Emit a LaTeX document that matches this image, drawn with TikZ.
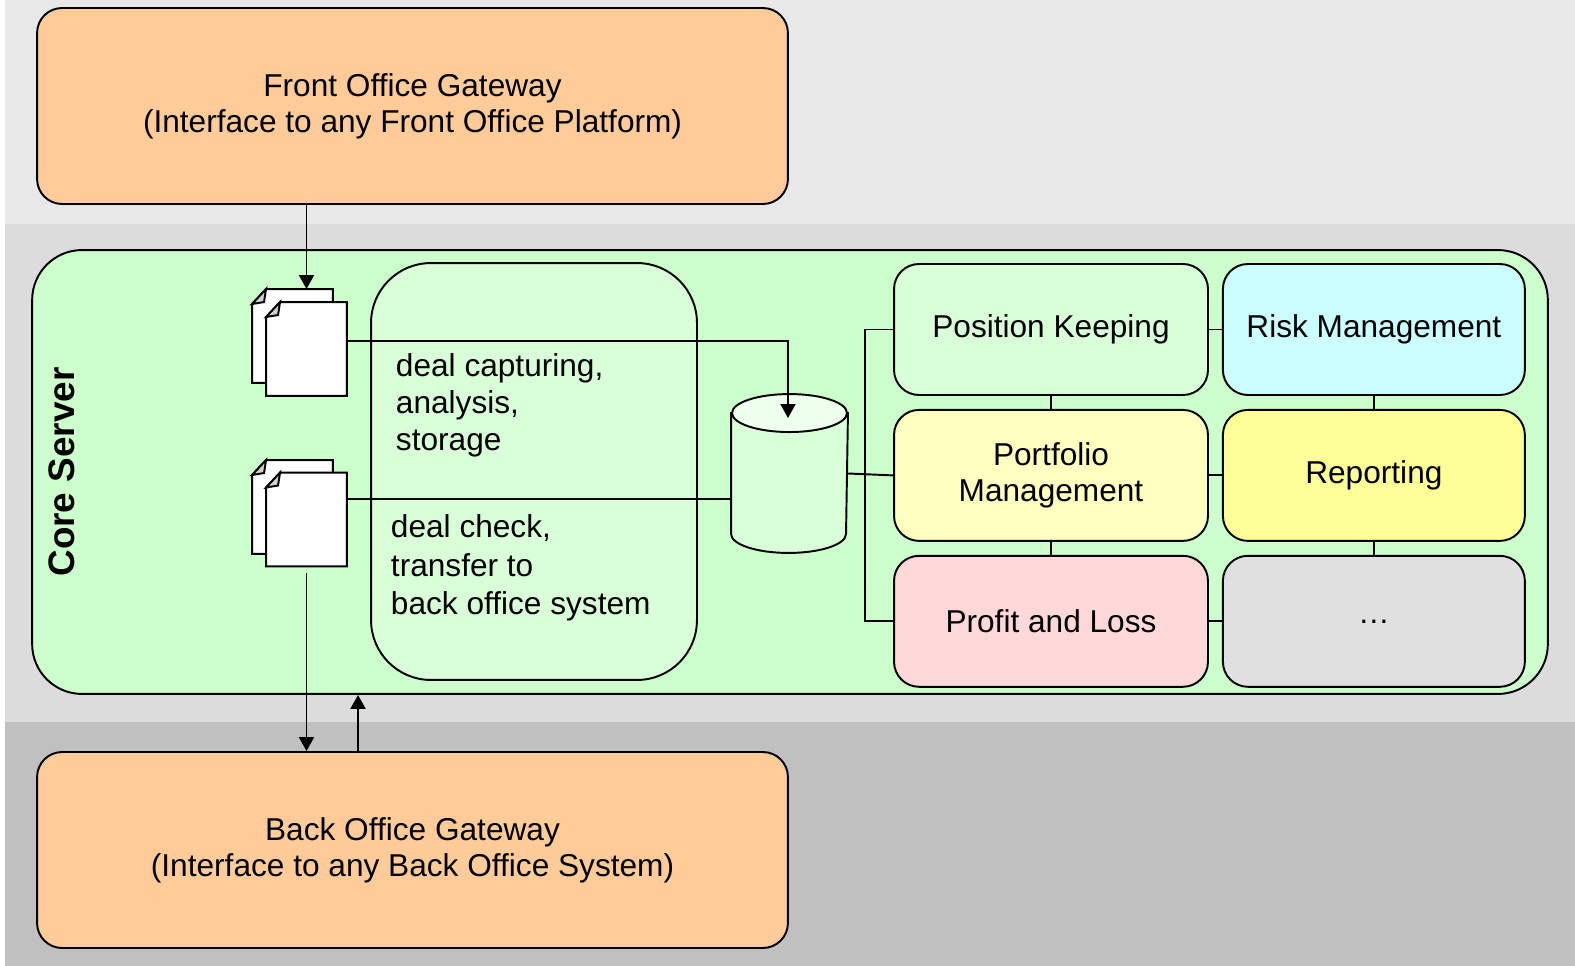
\documentclass[tikz,border=0pt]{standalone}
\usepackage{fontspec}
\setmainfont{Liberation Sans}
\usepackage{tikz}
\usetikzlibrary{arrows.meta, positioning}
\definecolor{bandA}{HTML}{E8E8E8}
\definecolor{bandB}{HTML}{DCDCDC}
\definecolor{bandC}{HTML}{C0C0C0}
\definecolor{gatecol}{HTML}{FFCC99}
\definecolor{corecol}{HTML}{CCFFCC}
\definecolor{lightcol}{HTML}{D9FFD9}
\definecolor{cyltop}{HTML}{EEFFEE}
\definecolor{rmcol}{HTML}{CCFFFF}
\definecolor{pmcol}{HTML}{FFFFBF}
\definecolor{rpcol}{HTML}{FFFF99}
\definecolor{plcol}{HTML}{FFD9D9}
\definecolor{etccol}{HTML}{E0E0E0}
\definecolor{foldcol}{HTML}{D0D0D0}
\newcommand{\sheet}[1]{%
  \filldraw[fill=white] ([yshift=-0.3cm]#1.north west) -- ([xshift=0.28cm]#1.north west) -- (#1.north east) -- (#1.south east) -- (#1.south west) -- cycle;
  \filldraw[fill=foldcol] ([yshift=-0.3cm]#1.north west) -- ([xshift=0.28cm]#1.north west) -- ([xshift=0.24cm,yshift=-0.26cm]#1.north west) -- cycle;}

\begin{document}
\begin{tikzpicture}[x=0.02cm, y=-0.02cm, line width=1.1pt,
    box/.style={draw, rounded corners=0.5cm, align=center, font=\fontsize{18}{20.5}\selectfont},
    gate/.style={box, fill=gatecol, minimum width=15.02cm, minimum height=3.92cm},
    mod/.style={box, minimum height=2.62cm},
    txt/.style={anchor=west, align=left, inner sep=0},
    pg/.style={minimum width=1.58cm, minimum height=1.84cm, inner sep=0},
    arr/.style={-{Triangle[length=0.28cm, width=0.3cm]}}]
  \fill[white] (0,0) rectangle (1575,966);
  \useasboundingbox (0,0) rectangle (1575,966);
  \fill[bandA] (5,0) rectangle (1575,224);
  \fill[bandB] (5,224) rectangle (1575,722);
  \fill[bandC] (5,722) rectangle (1575,966);

  \draw node[gate] (fog) at (412.5,106) {Front Office Gateway\\(Interface to any Front Office Platform)};
  \draw node[gate] (bog) at (412.5,850) {Back Office Gateway\\(Interface to any Back Office System)};

  \draw node[box, fill=corecol, rounded corners=1cm, minimum width=30.32cm, minimum height=8.88cm] (core) at (790,472) {};
  \node[rotate=90, font=\fontsize{21}{24}\selectfont\bfseries] (corelbl) at (62,472) {Core Server};
  \draw node[box, fill=lightcol, rounded corners=1.2cm, minimum width=6.52cm, minimum height=8.34cm] (proc) at (534,471.5) {};
  \node[txt, font=\fontsize{18}{21}\selectfont] (capt) at (395,405) {deal capturing,\\analysis,\\storage};
  \node[txt, font=\fontsize{18}{22}\selectfont] (chck) at (390,568) {deal check,\\transfer to\\back office system};

  \path node[pg] (ba) at (292.5,336) {} node[pg] (fa) at (306.5,349) {};
  \path node[pg] (bb) at (292.5,507) {} node[pg] (fb) at (306.5,519.5) {};
  \foreach \s in {ba,fa,bb,fb} \sheet{\s};

  \path node[minimum width=2.3cm, minimum height=3.14cm, inner sep=0] (db) at (789.5,473.5) {};
  \filldraw[fill=lightcol] ([yshift=-0.38cm]db.north west) -- ([yshift=0.38cm]db.south west)
    arc[start angle=180, end angle=360, x radius=1.15cm, y radius=0.38cm] -- ([yshift=-0.38cm]db.north east) -- cycle;
  \filldraw[fill=cyltop] ([yshift=-0.38cm]db.north) ellipse [x radius=1.15cm, y radius=0.38cm];
  \coordinate (dbin) at (788,418);

  \draw node[mod, fill=lightcol, minimum width=6.28cm] (pk) at (1051,329.5) {Position Keeping};
  \draw node[mod, fill=pmcol, minimum width=6.28cm, below=0.26cm of pk] (pm) {Portfolio\\Management};
  \draw node[mod, fill=plcol, minimum width=6.28cm, below=0.26cm of pm] (pl) {Profit and Loss};
  \draw node[mod, fill=rmcol, minimum width=6.04cm, right=0.26cm of pk] (rm) {Risk Management};
  \draw node[mod, fill=rpcol, minimum width=6.04cm, right=0.26cm of pm] (rp) {Reporting};
  \draw node[mod, fill=etccol, minimum width=6.04cm, right=0.26cm of pl] (etc) {\dots};

  \foreach \a/\b in {pk/rm, pm/rp, pl/etc, pk/pm, pm/pl, rm/rp, rp/etc}
  \draw (\a) -- (\b);
  \draw (pk.west) -- ++(-0.56cm,0) |- (pl.west);
  \draw (db.east) -- (pm.west);

  \draw[arr] (fog.south -| fa.north) -- (ba.north -| fa.north);
  \draw[arr] ([yshift=0.16cm]fa.east) -| (dbin);
  \draw ([yshift=0.41cm]fb.east) -- ([yshift=0.41cm]fb.east -| db.west);
  \draw[arr] ([yshift=-0.14cm]fb.south) -- (fb.south |- bog.north);
  \draw[arr] ([xshift=-1.09cm]bog.north) -- ([xshift=-1.09cm]bog.north |- core.south);
\end{tikzpicture}
\end{document}
